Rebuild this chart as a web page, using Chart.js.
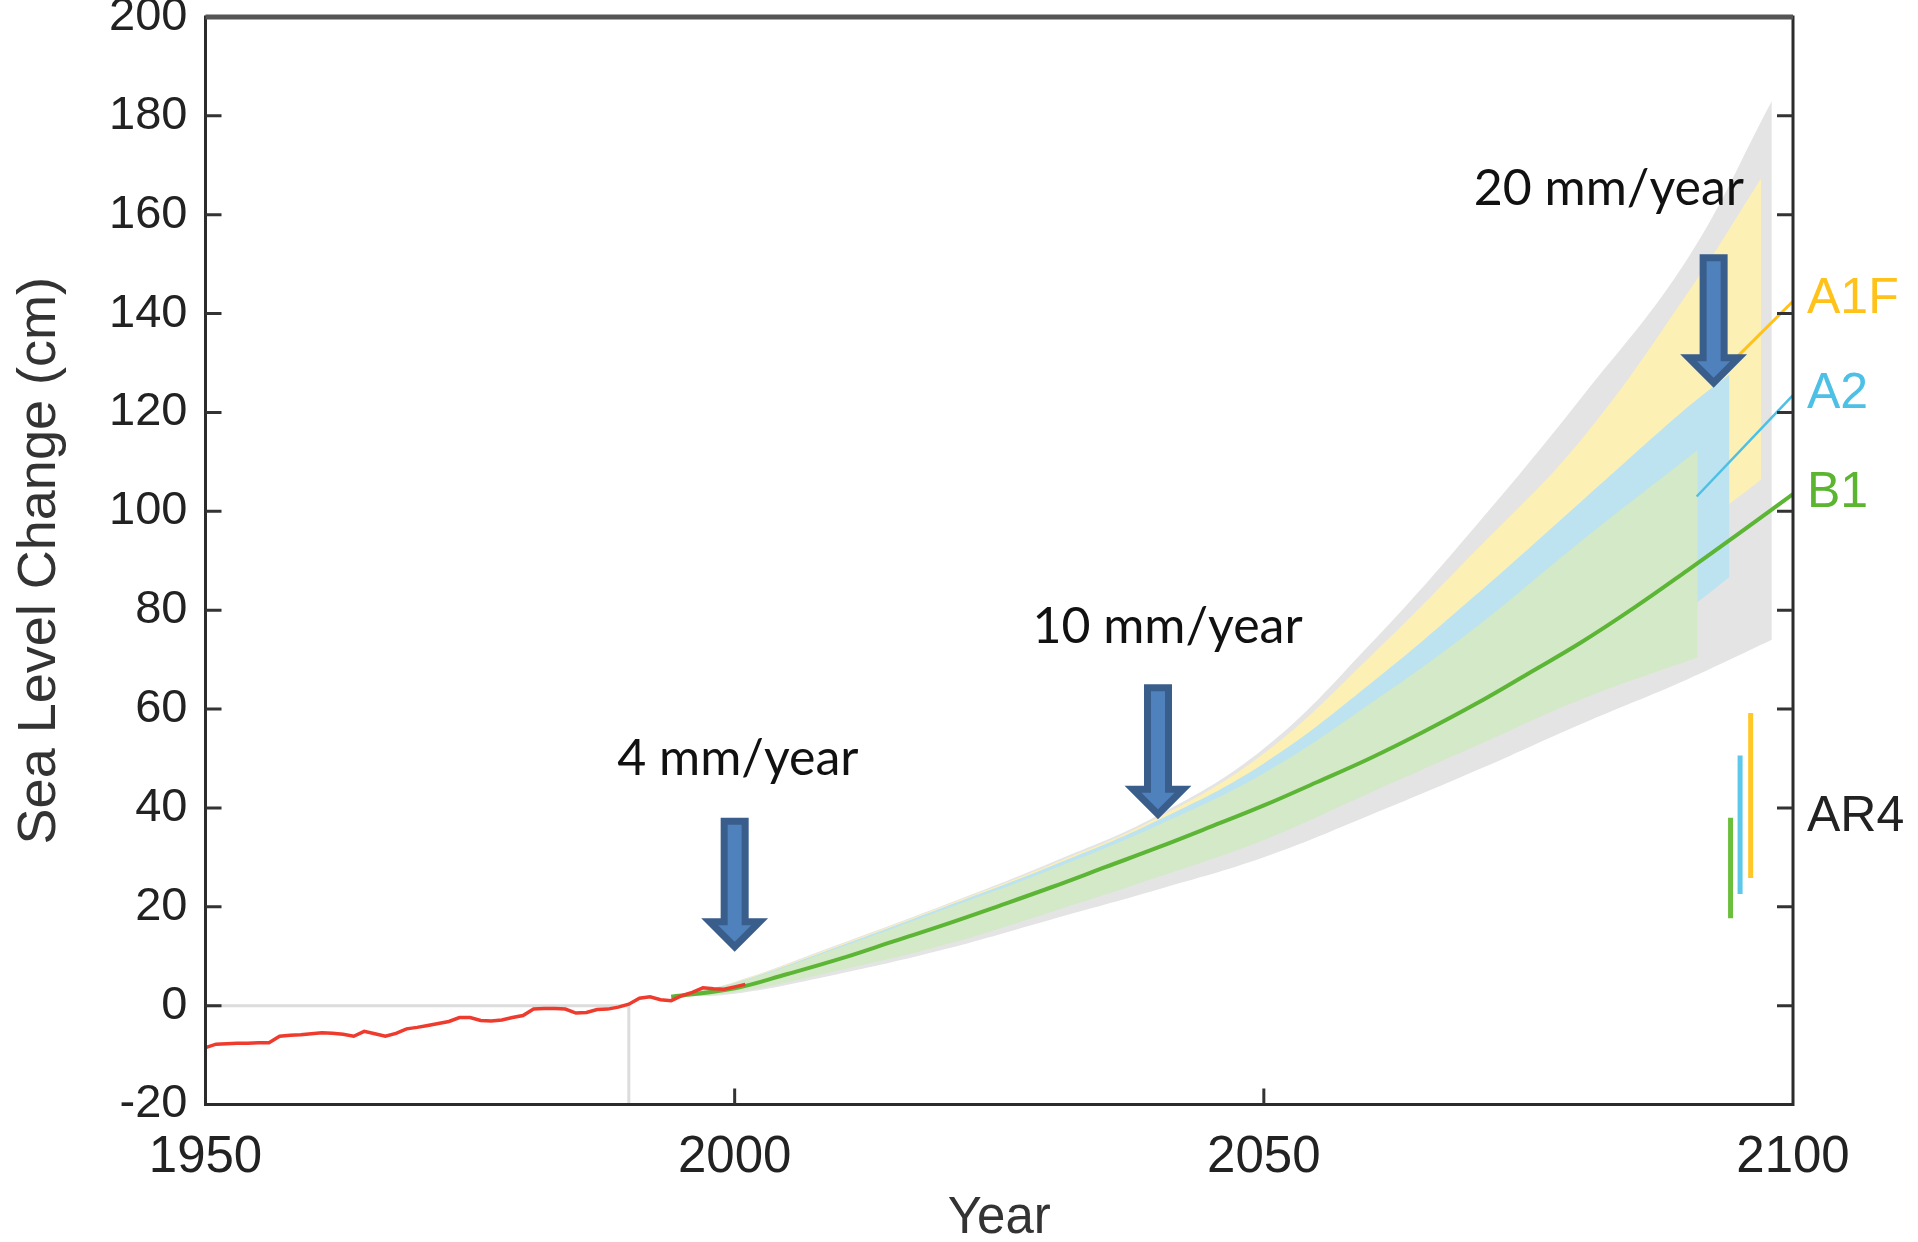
<!DOCTYPE html>
<html>
<head>
<meta charset="utf-8">
<script src="https://cdn.jsdelivr.net/npm/chart.js@4.4.1/dist/chart.umd.min.js"></script>
<style>
html, body { margin:0; padding:0; background:#fff; overflow:hidden; }
#wrap { position:absolute; left:0; top:-40px; width:1918px; height:1282px; }
</style>
</head>
<body>
<div id="wrap"><canvas id="chart"></canvas></div>
<script>
// ===============================
// Data (years, sea level in cm)
// ===============================

// observed record (red)
const obsYears = [1950,1951,1952,1953,1954,1955,1956,1957,1958,1959,1960,1961,1962,1963,1964,1965,1966,1967,1968,1969,
                  1970,1971,1972,1973,1974,1975,1976,1977,1978,1979,1980,1981,1982,1983,1984,1985,1986,1987,1988,1989,
                  1990,1991,1992,1993,1994,1995,1996,1997,1998,1999,2000,2001];
const obsLevel = [-8.5,-7.8,-7.7,-7.6,-7.6,-7.5,-7.5,-6.2,-6.0,-5.9,-5.7,-5.5,-5.6,-5.8,-6.2,-5.2,-5.7,-6.2,-5.6,-4.7,
                  -4.4,-4.0,-3.6,-3.2,-2.4,-2.4,-3.0,-3.1,-2.9,-2.4,-2.0,-0.7,-0.6,-0.6,-0.7,-1.5,-1.4,-0.8,-0.7,-0.3,
                  0.3,1.5,1.8,1.2,1.0,2.0,2.7,3.6,3.4,3.3,3.8,4.3];

// B1 central projection (green line)
const b1Years = [1994,2000,2005,2010,2015,2020,2025,2030,2035,2040,2045,2050,2055,2060,2065,2070,2075,2080,2085,2090,2095,2100];
const b1Level = [1.8,3.5,6.4,9.5,13.0,16.5,20.2,24.0,28.0,32.0,36.2,40.5,45.2,50.0,55.3,61.0,67.2,73.5,80.5,88.0,95.7,103.5];

// ranges
const grayYears = [1994,2000,2010,2020,2030,2040,2050,2060,2070,2080,2090,2098];
const grayHigh  = [1.8,4.8,12.5,20.5,29,38.5,52,73,97,123,151,183];
const grayLow   = [1.8,2.4,6.5,11.5,17.5,23.5,30,38.5,47.5,57,66,74];

const a1fYears = [1994,2000,2010,2020,2030,2040,2050,2060,2070,2080,2090,2097];
const a1fHigh  = [1.8,4.7,12.3,20.3,28.6,38,51,70.5,92,114.5,144,167.4];
const a1fLow   = [1.8,3,7.8,13,20.5,27.5,35,44,54.5,66,94,106.5];

const a2Years = [1994,2000,2010,2020,2030,2040,2050,2060,2070,2080,2090,2094];
const a2High  = [1.8,4.6,12.1,20.1,28.3,37.5,49,65,83,102,121,127.7];
const a2Low   = [1.8,2.9,7.6,12.8,20,27,34.5,43.5,53.5,64,80,86.7];

const b1RangeYears = [1994,2000,2010,2020,2030,2040,2050,2060,2070,2080,2091];
const b1High = [1.8,4.5,11.8,19.6,27.6,36.5,47,61,76.5,94,112.4];
const b1Low  = [1.8,2.7,7.2,12.4,19,26,33.5,43,52.5,62,70.5];

// end segments to the scenario labels
const a1fLineYears = [2094.6, 2100];
const a1fLineLevel = [131, 142.5];
const a2LineYears = [2090.9, 2100];
const a2LineLevel = [103, 123.5];

// AR4 ranges (green, blue, yellow)
const ar4Years = [2094.1, 2095.0, 2096.0];
const ar4Low   = [17.7, 22.6, 25.8];
const ar4High  = [38.0, 50.6, 59.2];

// reference lines
const refYears = [1950, 1990, 1990];
const refLevel = [0, 0, -20];

// arrows and rate labels
const arrowYears = [2000, 2040, 2092.5];
const arrowTop   = [38, 65, 152];
const arrowTip   = [10.7, 37.5, 124.8];
const rateLabels = ["4 mm/year", "10 mm/year", "20 mm/year"];
const rateYears  = [2000.3, 2040.9, 2082.6];
const rateLevel  = [46.7, 73.4, 161.9];

// scenario labels
const seriesNames = ["A1F", "A2", "B1", "AR4"];
const seriesLevel = [143, 123.6, 103.6, 38.1];

// ===============================
// Styles
// ===============================

const C_GRAY = "#e4e4e4";
const C_YEL  = "#fdf0b5";
const C_BLUE = "#bce3ef";
const C_GRN  = "#d3e9c8";
const L_GRN  = "#5db535";
const L_RED  = "#ee3b2e";
const L_YEL  = "#ffc21a";
const L_BLUE = "#4dc0e6";
const labelColors = [L_YEL, L_BLUE, "#5cb531", "#222"];

const SANS = "'Liberation Sans', Arial, sans-serif";

function pts(xs, ys){
    return xs.map((x,i)=>({x:x, y:ys[i]}));
}

function lineSet(xs, ys, color, width){
    return {data:pts(xs,ys), borderColor:color, borderWidth:width, fill:false,
            pointRadius:0, tension:0, borderCapStyle:"butt"};
}

function edgeSet(xs, ys, color, fill){
    return {data:pts(xs,ys), borderWidth:0, borderColor:"rgba(0,0,0,0)",
            backgroundColor:color, fill:fill, pointRadius:0, tension:0.4};
}

const green = lineSet(b1Years, b1Level, L_GRN, 4);
green.tension = 0.4;

const datasets = [
    lineSet(obsYears, obsLevel, L_RED, 3.5),
    green,
    lineSet(a2LineYears, a2LineLevel, L_BLUE, 2.5),
    lineSet(a1fLineYears, a1fLineLevel, L_YEL, 3),
    lineSet([ar4Years[0],ar4Years[0]], [ar4Low[0],ar4High[0]], "#6cbf3c", 5),
    lineSet([ar4Years[1],ar4Years[1]], [ar4Low[1],ar4High[1]], "#5ec8ea", 5),
    lineSet([ar4Years[2],ar4Years[2]], [ar4Low[2],ar4High[2]], "#ffc828", 5),
    lineSet(refYears, refLevel, "#dcdcdc", 3),
    edgeSet(b1RangeYears, b1High, C_GRN, "+1"),
    edgeSet(b1RangeYears, b1Low, C_GRN, false),
    edgeSet(a2Years, a2High, C_BLUE, "+1"),
    edgeSet(a2Years, a2Low, C_BLUE, false),
    edgeSet(a1fYears, a1fHigh, C_YEL, "+1"),
    edgeSet(a1fYears, a1fLow, C_YEL, false),
    edgeSet(grayYears, grayHigh, C_GRAY, "+1"),
    edgeSet(grayYears, grayLow, C_GRAY, false)
];

// ===============================
// Frame, inward ticks, arrows, labels
// ===============================

const decor = {
    id:"decor",
    afterDatasetsDraw(chart){
        const {ctx, chartArea:a, scales:{x, y}} = chart;
        ctx.save();

        // frame
        ctx.strokeStyle = "#2b2b2b";
        ctx.lineWidth = 3;
        ctx.strokeRect(a.left, a.top, a.right-a.left, a.bottom-a.top);
        ctx.strokeStyle = "#555";
        ctx.lineWidth = 5;
        ctx.beginPath();
        ctx.moveTo(a.left, a.top); ctx.lineTo(a.right, a.top);
        ctx.stroke();

        // inward ticks
        ctx.strokeStyle = "#333";
        ctx.lineWidth = 3;
        ctx.beginPath();
        y.ticks.forEach(t=>{
            const py = y.getPixelForValue(t.value);
            if (t.value <= y.min || t.value >= y.max) return;
            ctx.moveTo(a.left, py); ctx.lineTo(a.left+16, py);
            ctx.moveTo(a.right, py); ctx.lineTo(a.right-16, py);
        });
        x.ticks.forEach(t=>{
            const px = x.getPixelForValue(t.value);
            if (t.value <= x.min || t.value >= x.max) return;
            ctx.moveTo(px, a.bottom); ctx.lineTo(px, a.bottom-16);
        });
        ctx.stroke();

        // arrows
        ctx.fillStyle = "#4f81bd";
        ctx.strokeStyle = "#3a5e8c";
        ctx.lineWidth = 7;
        ctx.lineJoin = "miter";
        arrowYears.forEach((yr,i)=>{
            const cx = x.getPixelForValue(yr);
            const top = y.getPixelForValue(arrowTop[i]) + 3.5;
            const tip = y.getPixelForValue(arrowTip[i]) - 6;
            const head = tip - 25;
            ctx.beginPath();
            ctx.moveTo(cx-10.5, top);
            ctx.lineTo(cx+10.5, top);
            ctx.lineTo(cx+10.5, head);
            ctx.lineTo(cx+25, head);
            ctx.lineTo(cx, tip);
            ctx.lineTo(cx-25, head);
            ctx.lineTo(cx-10.5, head);
            ctx.closePath();
            ctx.fill();
            ctx.stroke();
        });

        // rate labels
        ctx.fillStyle = "#111";
        ctx.font = "50px Lato, 'Open Sans', sans-serif";
        ctx.textAlign = "center";
        ctx.textBaseline = "alphabetic";
        rateLabels.forEach((s,i)=>{
            ctx.fillText(s, x.getPixelForValue(rateYears[i]), y.getPixelForValue(rateLevel[i]));
        });

        // scenario labels
        ctx.font = "50px " + SANS;
        ctx.textAlign = "left";
        ctx.textBaseline = "middle";
        seriesNames.forEach((s,i)=>{
            ctx.fillStyle = labelColors[i];
            ctx.fillText(s, a.right+14, y.getPixelForValue(seriesLevel[i]));
        });

        ctx.restore();
    }
};

// ===============================
// Chart
// ===============================

const chart = new Chart(document.getElementById("chart"), {
    type:"line",
    data:{datasets:datasets},
    plugins:[decor],
    options:{
        responsive:true,
        maintainAspectRatio:false,
        animation:false,
        layout:{padding:{top:57, right:125, left:0, bottom:0}},
        plugins:{
            legend:{display:false},
            tooltip:{enabled:false},
            filler:{drawTime:"beforeDatasetsDraw", propagate:false}
        },
        scales:{
            x:{
                type:"linear", min:1950, max:2100,
                ticks:{stepSize:50, padding:23, color:"#222", maxRotation:0,
                       font:{family:SANS, size:51}, callback:v=>String(v)},
                grid:{display:false, drawTicks:false},
                border:{display:false},
                title:{display:true, text:"Year", color:"#333",
                       font:{family:SANS, size:51, lineHeight:1}, padding:{top:0, bottom:-2}},
                afterFit:s=>{ s.height = 137.5; }
            },
            y:{
                type:"linear", min:-20, max:200,
                ticks:{stepSize:20, padding:18, color:"#222",
                       font:{family:SANS, size:47}, callback:v=>String(v)},
                grid:{display:false, drawTicks:false},
                border:{display:false},
                title:{display:true, text:"Sea Level Change (cm)", color:"#333",
                       font:{family:SANS, size:54, lineHeight:1}, padding:{top:13, bottom:0}},
                afterFit:s=>{ s.width = 205.5; }
            }
        }
    }
});
</script>
</body>
</html>
